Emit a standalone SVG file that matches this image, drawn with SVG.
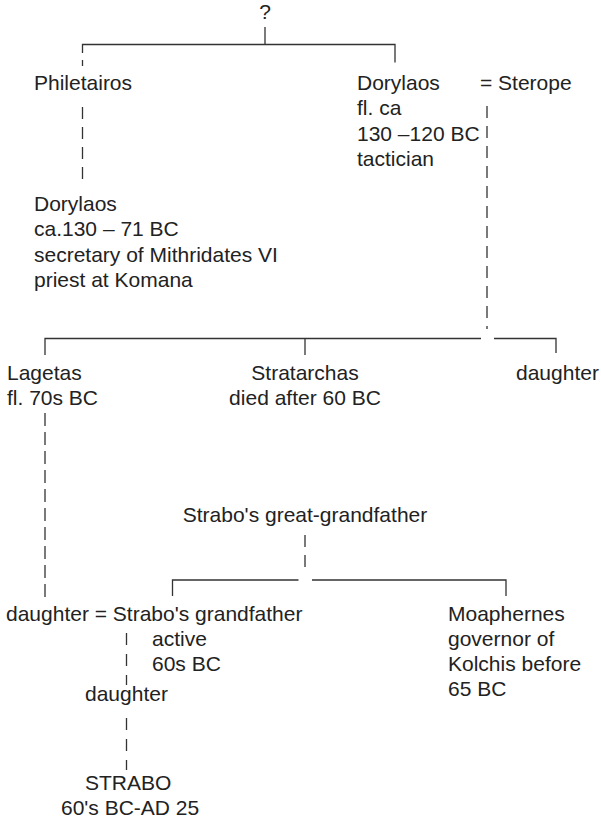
<svg xmlns="http://www.w3.org/2000/svg" width="601" height="820" viewBox="0 0 601 820">
<style>
text{font-family:"Liberation Sans",Arial,sans-serif;font-size:21px;fill:#222}
.m{text-anchor:middle}
.ln{fill:none;stroke:#333;stroke-width:1.3}
.d{fill:none;stroke:#333;stroke-width:1.3;stroke-dasharray:12 8}
</style>
<rect width="601" height="820" fill="#fff"/>
<g id="connectors">
<path class="ln" d="M265 27V44.5"/>
<path class="ln" d="M82.5 53V44.5H395V62.5"/>
<path class="ln" d="M82.5 60V66"/>
<path class="d" d="M82.5 107V186"/>
<path class="d" d="M487 106V329"/>
<path class="ln" d="M45 355V338.5H481"/>
<path class="ln" d="M305 338.5V355"/>
<path class="ln" d="M494 338.5H556V353"/>
<path class="d" d="M45 413V599" style="stroke-dasharray:13 6"/>
<path class="d" d="M305 535V571"/>
<path class="ln" d="M172.5 596V580H298.5"/>
<path class="ln" d="M312 580H506V596"/>
<path class="d" d="M126.5 633V685" style="stroke-dasharray:12 9"/>
<path class="d" d="M126.5 718V770" style="stroke-dasharray:12 9"/>
</g>
<g id="unknown"><text class="m" x="265" y="19">?</text></g>
<g id="philetairos"><text x="34" y="89.5">Philetairos</text></g>
<g id="dorylaos-tactician">
<text x="357" y="89.5">Dorylaos</text>
<text x="357" y="115">fl. ca</text>
<text x="357" y="140.5">130 –120 BC</text>
<text x="357" y="166">tactician</text>
</g>
<g id="sterope"><text x="480" y="89.5">= Sterope</text></g>
<g id="dorylaos-priest">
<text x="34" y="210.5">Dorylaos</text>
<text x="34" y="236">ca.130 – 71 BC</text>
<text x="34" y="261.5">secretary of Mithridates VI</text>
<text x="34" y="287">priest at Komana</text>
</g>
<g id="lagetas">
<text x="7" y="380">Lagetas</text>
<text x="7" y="405">fl. 70s BC</text>
</g>
<g id="stratarchas">
<text class="m" x="305" y="380">Stratarchas</text>
<text class="m" x="305" y="405">died after 60 BC</text>
</g>
<g id="daughter-1"><text x="516" y="380">daughter</text></g>
<g id="great-grandfather"><text class="m" x="305" y="522">Strabo's great-grandfather</text></g>
<g id="grandfather">
<text x="6" y="621">daughter = Strabo's grandfather</text>
<text x="152" y="646">active</text>
<text x="152" y="671">60s BC</text>
</g>
<g id="moaphernes">
<text x="448" y="621">Moaphernes</text>
<text x="448" y="646">governor of</text>
<text x="448" y="671">Kolchis before</text>
<text x="448" y="696">65 BC</text>
</g>
<g id="daughter-2"><text x="85" y="701">daughter</text></g>
<g id="strabo">
<text x="85" y="790">STRABO</text>
<text x="61" y="815">60's BC-AD 25</text>
</g>
</svg>
